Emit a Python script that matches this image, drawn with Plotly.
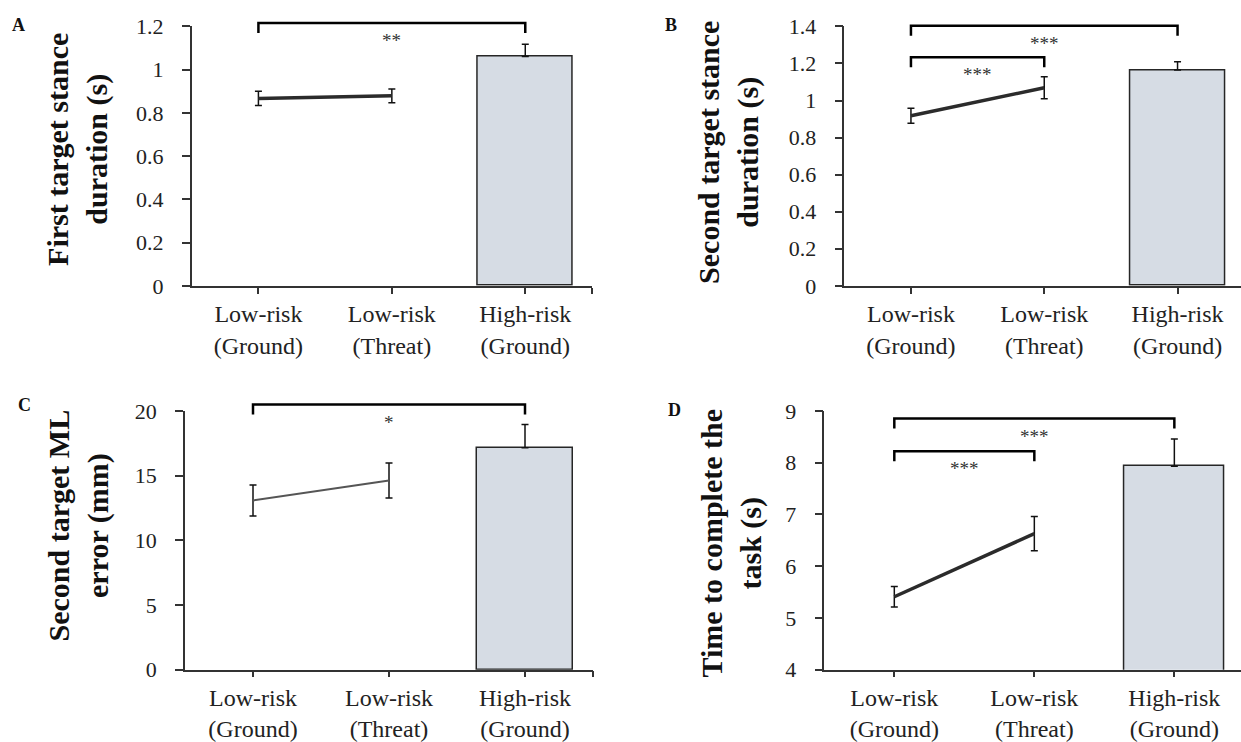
import plotly.graph_objects as go

# ---------------- data ----------------
categories = ["Low-risk<br>(Ground)", "Low-risk<br>(Threat)", "High-risk<br>(Ground)"]
panel_letters = ["A", "B", "C", "D"]
y_titles = [
    "First target stance<br>duration (s)",
    "Second target stance<br>duration (s)",
    "Second target ML<br>error (mm)",
    "Time to complete the<br>task (s)",
]

a_line_mean = [0.867, 0.879]
a_line_err = [0.033, 0.032]
a_bar_mean = [1.061]
a_bar_err = [0.057]

b_line_mean = [0.918, 1.069]
b_line_err = [0.040, 0.060]
b_bar_mean = [1.165]
b_bar_err = [0.044]

c_line_mean = [13.08, 14.63]
c_line_err = [1.20, 1.35]
c_bar_mean = [17.16]
c_bar_err = [1.80]

d_line_mean = [5.41, 6.63]
d_line_err = [0.20, 0.33]
d_bar_mean = [7.93]
d_bar_err = [0.53]

y_ranges = [[0, 1.2], [0, 1.4], [0, 20], [4, 9]]
y_dticks = [0.2, 0.2, 5, 1]

# significance comparisons: (from category, to category, stars, bracket level)
a_sig = [(0, 2, "**", 1.216)]
b_sig = [(0, 2, "***", 1.404), (0, 1, "***", 1.234)]
c_sig = [(0, 2, "*", 20.5)]
d_sig = [(0, 2, "***", 8.853), (0, 1, "***", 8.22)]

# ---------------- layout geometry ----------------
W = 1241
FH = 768                 # figure height
VS, VOFF = 0.966, 12.3   # observed vertical mapping of the captured picture


def fy(y_pic):
    """figure pixel (from top) for a wanted picture pixel"""
    return (y_pic - VOFF) / VS


def pfrac(y_pic):
    return 1 - fy(y_pic) / FH


x_domains = [[191.7 / W, 592 / W], [844.3 / W, 1.0], [185 / W, 593 / W], [824.3 / W, 1.0]]
x_ranges = [[-0.5, 2.5], [-0.5, 2.476], [-0.5, 2.5], [-0.5, 2.476]]
y_domains = [[pfrac(285.7), pfrac(26.7)], [pfrac(285.7), pfrac(26.7)],
             [pfrac(669), pfrac(410.7)], [pfrac(669), pfrac(410.7)]]
letter_pos = [(18, 25), (671, 25), (24, 405), (675, 410)]
title_pos = [(78, 150), (729, 153), (78, 525), (731, 543)]
EXT_PX = 24  # headroom (picture px) of the invisible overlay subplot used for brackets

SERIF = "Liberation Serif"
AX_COL = "#333333"
line_widths = [3.5, 3.5, 2.0, 3.5]
line_colors = ["#2b2b2b", "#2b2b2b", "#555555", "#2b2b2b"]

panels = [
    (a_line_mean, a_line_err, a_bar_mean, a_bar_err, a_sig),
    (b_line_mean, b_line_err, b_bar_mean, b_bar_err, b_sig),
    (c_line_mean, c_line_err, c_bar_mean, c_bar_err, c_sig),
    (d_line_mean, d_line_err, d_bar_mean, d_bar_err, d_sig),
]

fig = go.Figure()
annotations = []
cat_idx = list(range(len(categories)))

for i, (lm, le, bm, be, sig) in enumerate(panels):
    sfx = "" if i == 0 else str(i + 1)
    xa, ya = "x" + sfx, "y" + sfx
    osfx = str(i + 5)
    oxa, oya = "x" + osfx, "y" + osfx

    fig.add_trace(go.Bar(
        x=cat_idx[2:3], y=bm, width=0.71, xaxis=xa, yaxis=ya,
        marker=dict(color="#D6DCE4", line=dict(color="#262626", width=1.5)),
        error_y=dict(type="data", symmetric=False, array=be, arrayminus=[0],
                     color="#111111", thickness=1.5, width=3.5),
        showlegend=False,
    ))
    fig.add_trace(go.Scatter(
        x=cat_idx[0:2], y=lm, mode="lines", xaxis=xa, yaxis=ya,
        line=dict(color=line_colors[i], width=line_widths[i]),
        error_y=dict(type="data", array=le, color="#111111", thickness=1.5, width=3.5),
        showlegend=False,
    ))

    # invisible overlay subplot, same scale, with headroom for the brackets
    span = y_ranges[i][1] - y_ranges[i][0]
    d0, d1 = y_domains[i]
    o_top = min(1.0, d1 + (EXT_PX / VS) / FH)
    o_ydom = [d0, o_top]
    o_yrng = [y_ranges[i][0], y_ranges[i][1] + span * (o_top - d1) / (d1 - d0)]
    dom_px = (d1 - d0) * FH
    drop = span * (10 / VS) / dom_px
    for (c0, c1, stars, lvl) in sig:
        fig.add_trace(go.Scatter(
            x=[cat_idx[c0], cat_idx[c0], cat_idx[c1], cat_idx[c1]],
            y=[lvl - drop, lvl, lvl, lvl - drop],
            mode="lines", xaxis=oxa, yaxis=oya,
            line=dict(color="#000000", width=2.5), showlegend=False, hoverinfo="skip",
        ))
        annotations.append(dict(
            x=(cat_idx[c0] + cat_idx[c1]) / 2, y=lvl, xref=oxa, yref=oya,
            text=stars, showarrow=False, yshift=-17 / VS, yanchor="middle",
            font=dict(family=SERIF, size=19, color="#333333"),
        ))
    fig.layout["xaxis" + osfx] = dict(domain=x_domains[i], range=x_ranges[i], anchor=oya,
                                      visible=False, fixedrange=True)
    fig.layout["yaxis" + osfx] = dict(domain=o_ydom, range=o_yrng, anchor=oxa,
                                      visible=False, fixedrange=True)

    lx, ly = letter_pos[i]
    annotations.append(dict(
        x=lx / W, y=pfrac(ly), xref="paper", yref="paper", text="<b>" + panel_letters[i] + "</b>",
        showarrow=False, xanchor="center", yanchor="middle",
        font=dict(family=SERIF, size=18, color="#111111"),
    ))
    tx, ty = title_pos[i]
    annotations.append(dict(
        x=tx / W, y=pfrac(ty), xref="paper", yref="paper", text="<b>" + y_titles[i] + "</b>",
        showarrow=False, xanchor="center", yanchor="middle", textangle=-90,
        font=dict(family=SERIF, size=30, color="#111111"),
    ))

    fig.layout["xaxis" + sfx] = dict(
        domain=x_domains[i], range=x_ranges[i], anchor=ya,
        tickvals=cat_idx + [2.5], ticktext=categories + [""],
        ticks="outside", ticklen=6, tickwidth=1.5, tickcolor=AX_COL,
        showline=True, linecolor=AX_COL, linewidth=1.5,
        showgrid=False, zeroline=False, fixedrange=True,
        tickfont=dict(family=SERIF, size=24, color="#222222"),
    )
    fig.layout["yaxis" + sfx] = dict(
        domain=y_domains[i], range=y_ranges[i], anchor=xa,
        dtick=y_dticks[i], tick0=y_ranges[i][0],
        ticks="outside", ticklen=8, tickwidth=1.5, tickcolor=AX_COL,
        showline=True, linecolor=AX_COL, linewidth=1.5,
        showgrid=False, zeroline=False, fixedrange=True,
        ticklabelstandoff=14,
        tickfont=dict(family=SERIF, size=22, color="#222222"),
    )

fig.update_layout(
    width=W, height=FH, autosize=False,
    margin=dict(l=0, r=0, t=0, b=0),
    paper_bgcolor="white", plot_bgcolor="rgba(0,0,0,0)",
    annotations=annotations, bargap=0,
)

fig.write_html("out.html")
